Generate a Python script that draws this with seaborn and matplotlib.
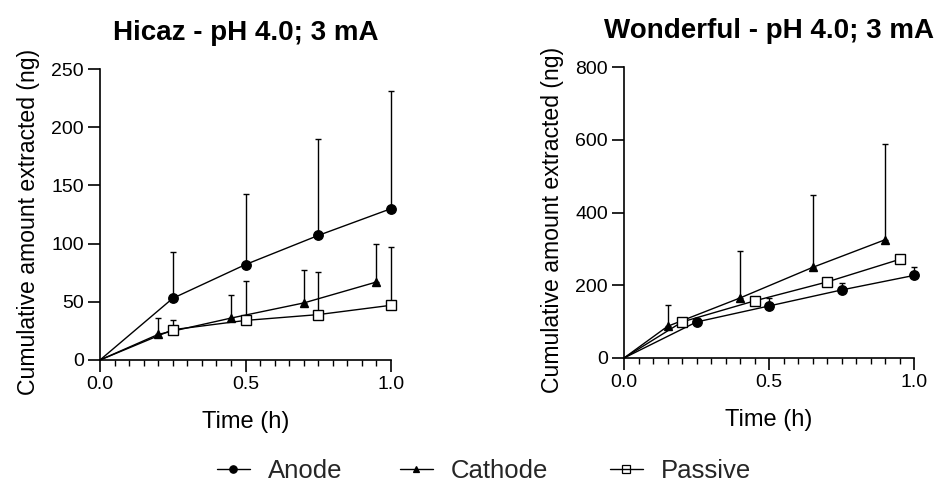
import matplotlib
matplotlib.use("Agg")
import matplotlib.pyplot as plt
import seaborn as sns
import numpy as np
import pandas as pd
from matplotlib.ticker import MultipleLocator
from matplotlib.lines import Line2D

sns.set_theme(style="ticks")
plt.rcParams['font.family'] = ['Liberation Sans', 'DejaVu Sans']

# Hicaz panel
hicaz_anode_t = [0, 0.25, 0.5, 0.75, 1.0]
hicaz_anode = [0, 53, 82, 107, 130]
hicaz_anode_sd = [0, 40, 61, 83, 101]
hicaz_cathode_t = [0, 0.2, 0.45, 0.7, 0.95]
hicaz_cathode = [0, 22, 36, 49, 67]
hicaz_cathode_sd = [0, 14, 20, 28, 33]
hicaz_passive_t = [0, 0.25, 0.5, 0.75, 1.0]
hicaz_passive = [0, 26, 34, 39, 47]
hicaz_passive_sd = [0, 8, 34, 37, 50]

# Wonderful panel
wond_anode_t = [0, 0.25, 0.5, 0.75, 1.0]
wond_anode = [0, 99, 143, 187, 227]
wond_anode_sd = [0, 5, 21, 18, 23]
wond_cathode_t = [0, 0.15, 0.4, 0.65, 0.9]
wond_cathode = [0, 87, 165, 249, 325]
wond_cathode_sd = [0, 59, 128, 200, 262]
wond_passive_t = [0, 0.2, 0.45, 0.7, 0.95]
wond_passive = [0, 99, 157, 209, 271]
wond_passive_sd = [0, 4, 6, 8, 8]

titles = ["Hicaz - pH 4.0; 3 mA", "Wonderful - pH 4.0; 3 mA"]
series_names = ["Anode", "Cathode", "Passive"]
x_ticks = [0.0, 0.5, 1.0]
x_ticklabels = ["0.0", "0.5", "1.0"]

styles = {
    "Anode": dict(marker="o", mfc="black", ms=6.8),
    "Cathode": dict(marker="^", mfc="black", ms=6.2),
    "Passive": dict(marker="s", mfc="white", ms=6.8),
}

panels = [
    {"Anode": (hicaz_anode_t, hicaz_anode, hicaz_anode_sd),
     "Cathode": (hicaz_cathode_t, hicaz_cathode, hicaz_cathode_sd),
     "Passive": (hicaz_passive_t, hicaz_passive, hicaz_passive_sd)},
    {"Anode": (wond_anode_t, wond_anode, wond_anode_sd),
     "Cathode": (wond_cathode_t, wond_cathode, wond_cathode_sd),
     "Passive": (wond_passive_t, wond_passive, wond_passive_sd)},
]

fig = plt.figure(figsize=(9.34, 4.86), dpi=100)
W, H = 934, 486
rects = [(100, 69, 391, 360), (624, 67, 914, 358)]
ylims = [(0, 250), (0, 800)]
ymaj = [50, 200]

for i, (panel, (x0, y0, x1, y1)) in enumerate(zip(panels, rects)):
    ax = fig.add_axes([x0 / W, 1 - y1 / H, (x1 - x0) / W, (y1 - y0) / H])
    for name in series_names:
        t, v, sd = panel[name]
        df = pd.DataFrame({"t": t, "v": v})
        st = styles[name]
        eb = ax.errorbar(t[1:], v[1:], yerr=[np.zeros(len(sd) - 1), sd[1:]], fmt="none",
                         ecolor="black", elinewidth=1.0, capsize=2.5, capthick=1.0, zorder=2)
        for art in eb.lines[1] + eb.lines[2]:
            art.set_clip_on(False)
        sns.lineplot(data=df, x="t", y="v", ax=ax, color="black", lw=1.0,
                     marker=st["marker"], markersize=st["ms"],
                     markerfacecolor=st["mfc"], markeredgecolor="black",
                     markeredgewidth=1.0, markevery=list(range(1, len(t))),
                     zorder=3, clip_on=False)
    ax.set_xlim(0, 1.0)
    ax.set_ylim(*ylims[i])
    ax.xaxis.set_minor_locator(MultipleLocator(0.05))
    ax.yaxis.set_major_locator(MultipleLocator(ymaj[i]))
    ax.set_xticks(x_ticks)
    ax.set_xticklabels(x_ticklabels)
    sns.despine(ax=ax)
    for s in ["left", "bottom"]:
        ax.spines[s].set_linewidth(1.2)
        ax.spines[s].set_color("black")
    ax.tick_params(axis="both", which="major", length=8.5, width=1.2, labelsize=14,
                   color="black", labelcolor="black", pad=3)
    ax.tick_params(axis="x", which="minor", length=4, width=1.0, color="black")
    ax.set_xlabel("Time (h)", fontsize=17, color="black", labelpad=13)
    ax.set_ylabel("Cumulative amount extracted (ng)", fontsize=16.6, color="black", labelpad=8)
    ax.yaxis.label.set_y(0.475)
    ax.set_title(titles[i], fontsize=20, fontweight="bold", color="black", pad=21)
    ax.set_facecolor("white")

legend_x = [217, 400, 610]
for n, lx in zip(series_names, legend_x):
    mfc = "none" if styles[n]["mfc"] == "white" else styles[n]["mfc"]
    h = Line2D([0], [0], color="black", lw=1.0, marker=styles[n]["marker"],
               markersize=styles[n]["ms"] - 1.5, markerfacecolor=mfc,
               markeredgecolor="black", markeredgewidth=0.9)
    fig.legend([h], [n], loc="center left", bbox_to_anchor=(lx / W, 1 - 471 / H),
               frameon=False, fontsize=18.5, handlelength=1.28, handletextpad=0.7,
               borderpad=0, borderaxespad=0)

fig.savefig("out.png", dpi=100, facecolor="white")
